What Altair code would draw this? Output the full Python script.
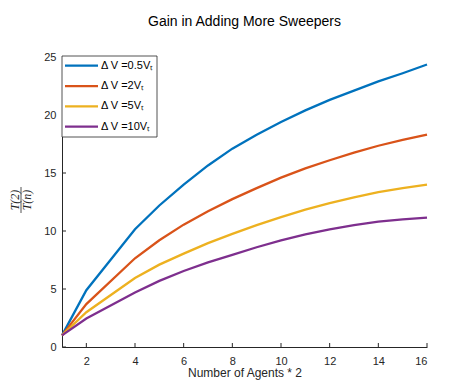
import altair as alt
import pandas as pd

x_vals = [1, 2, 4, 5, 6, 7, 8, 9, 10, 11, 12, 13, 14, 15, 16]
series_names = ["Δ V =0.5Vₜ", "Δ V =2Vₜ", "Δ V =5Vₜ", "Δ V =10Vₜ"]
dv05 = [1, 4.9, 10.15, 12.2, 14.0, 15.65, 17.1, 18.3, 19.4, 20.4, 21.3, 22.1, 22.9, 23.6, 24.35]
dv2 = [1, 3.7, 7.65, 9.2, 10.55, 11.7, 12.75, 13.7, 14.6, 15.4, 16.1, 16.75, 17.35, 17.85, 18.3]
dv5 = [1, 3.0, 5.95, 7.1, 8.05, 8.95, 9.75, 10.5, 11.2, 11.85, 12.4, 12.9, 13.35, 13.7, 14.0]
dv10 = [1, 2.45, 4.7, 5.7, 6.55, 7.3, 7.95, 8.6, 9.2, 9.7, 10.15, 10.5, 10.8, 11.0, 11.15]
colors = ["#0072BD", "#D95319", "#EDB120", "#7E2F8E"]
x_ticks = [2, 4, 6, 8, 10, 12, 14, 16]
y_ticks = [0, 5, 10, 15, 20, 25]

rows = []
for name, vals in zip(series_names, [dv05, dv2, dv5, dv10]):
    for xv, yv in zip(x_vals, vals):
        rows.append({"x": xv, "value": yv, "series": name})
df = pd.DataFrame(rows)
leg_df = pd.DataFrame({"series": series_names})

W, H = 365, 290
AX = "#262626"
FONT = "Liberation Sans"

xscale = alt.Scale(domain=[1, 16], nice=False, zero=False)
yscale = alt.Scale(domain=[0, 25], nice=False)
cscale = alt.Scale(domain=series_names, range=colors)
legy = alt.Scale(type="point", domain=series_names, range=[8.7, 69.7], padding=0)
xaxis = alt.Axis(values=x_ticks, ticks=False, tickSize=0, labelPadding=8,
                 titlePadding=1, grid=False)

lines = alt.Chart(df).mark_line(strokeWidth=2.3).encode(
    x=alt.X("x:Q", scale=xscale, title="Number of Agents * 2", axis=xaxis),
    y=alt.Y("value:Q", scale=yscale, title=None,
            axis=alt.Axis(values=y_ticks, ticks=False, tickSize=0, labelPadding=6, grid=False)),
    color=alt.Color("series:N", scale=cscale, sort=series_names, legend=None),
)

xt = alt.Chart(pd.DataFrame({"t": x_ticks})).mark_rule(color=AX, strokeWidth=1).encode(
    x=alt.X("t:Q", scale=xscale, title="Number of Agents * 2", axis=xaxis),
    y=alt.value(H), y2=alt.value(H - 4))
yt = alt.Chart(pd.DataFrame({"t": y_ticks})).mark_rule(color=AX, strokeWidth=1).encode(
    y=alt.Y("t:Q", scale=yscale, axis=None), x=alt.value(0), x2=alt.value(4))

one = pd.DataFrame({"k": [0]})
tstyle = dict(font="Liberation Serif", fontStyle="italic", fontSize=12,
              angle=270, color=AX, baseline="middle", align="center")
num = alt.Chart(one).mark_text(**tstyle).encode(
    x=alt.value(-47), y=alt.value(143), text=alt.value("T(2)"))
den = alt.Chart(one).mark_text(**tstyle).encode(
    x=alt.value(-35), y=alt.value(143), text=alt.value("T(n)"))
bar = alt.Chart(one).mark_rule(color=AX, strokeWidth=0.8).encode(
    x=alt.value(-41), y=alt.value(130), y2=alt.value(156))

# legend
box = alt.Chart(one).mark_rect(fill="white", stroke=AX, strokeWidth=0.8).encode(
    x=alt.value(0), x2=alt.value(95), y=alt.value(-1), y2=alt.value(80))
leg_lines = alt.Chart(leg_df).mark_rule(strokeWidth=2.3).encode(
    x=alt.value(3), x2=alt.value(36),
    y=alt.Y("series:N", scale=legy, axis=None),
    color=alt.Color("series:N", scale=cscale, legend=None),
)
leg_text = alt.Chart(leg_df).mark_text(align="left", baseline="middle", font=FONT,
                                       fontSize=11, color="#000000").encode(
    x=alt.value(39),
    y=alt.Y("series:N", scale=legy, axis=None),
    text="series:N",
)

chart = alt.layer(lines, xt, yt, num, den, bar, box, leg_lines, leg_text).resolve_scale(
    y="independent"
).properties(
    width=W, height=H,
    title=alt.Title("Gain in Adding More Sweepers", fontSize=14, fontWeight="normal",
                    font=FONT, color="#000000", offset=22),
    autosize=alt.AutoSizeParams(type="none"),
    padding={"left": 54, "top": 49, "right": 36, "bottom": 33},
).configure_view(stroke=None).configure_axis(
    domainColor=AX, domainWidth=1, labelColor=AX, labelFont=FONT, labelFontSize=11,
    titleColor=AX, titleFont=FONT, titleFontSize=12, titleFontWeight="normal",
)

chart.save("out.html", embed_options={"renderer": "svg", "actions": False})
